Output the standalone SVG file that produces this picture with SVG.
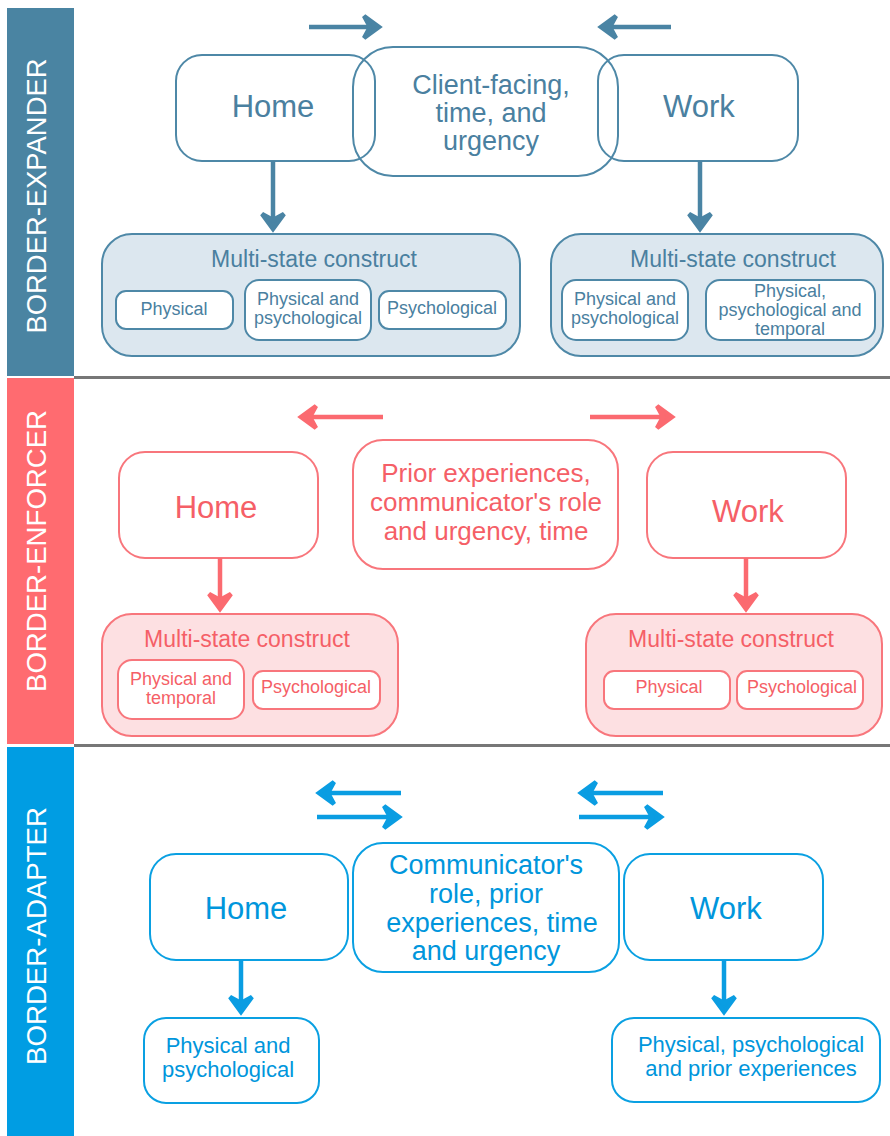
<svg xmlns="http://www.w3.org/2000/svg" width="890" height="1136" viewBox="0 0 890 1136">
<style>
text{font-family:"Liberation Sans",Arial,sans-serif;text-anchor:middle}
.side{fill:#fff;font-size:27px}
.b1{fill:#fff;stroke:#4e88a7;stroke-width:2}
.m1{fill:#dce7ef;stroke:#4e88a7;stroke-width:2}
.t1{fill:#4a80a0}
.b2{fill:#fff;stroke:#f8767c;stroke-width:2}
.m2{fill:#fde0e2;stroke:#f8767c;stroke-width:2}
.t2{fill:#f55f67}
.b3{fill:#fff;stroke:#0aa0e2;stroke-width:2}
.t3{fill:#0096dc}
.big{font-size:31px}
.mid{font-size:26px}
.ms{font-size:23px}
.sm{font-size:18px}
.a1{stroke:#4a84a4;stroke-width:4.5;fill:none}
.a2{stroke:#fb6a70;stroke-width:4.5;fill:none}
.a3{stroke:#0a9de2;stroke-width:4.5;fill:none}
.sep{stroke:#777;stroke-width:3}
</style>
<defs>
<marker id="h1" markerUnits="userSpaceOnUse" viewBox="-22 -15 28 30" markerWidth="28" markerHeight="30" refX="0" refY="0" orient="auto"><path d="M-15,-11 L0,0 L-15,11 L-9,0 Z" fill="#4a84a4" stroke="#4a84a4" stroke-width="4.5" stroke-linecap="round"/></marker>
<marker id="h2" markerUnits="userSpaceOnUse" viewBox="-22 -15 28 30" markerWidth="28" markerHeight="30" refX="0" refY="0" orient="auto"><path d="M-15,-11 L0,0 L-15,11 L-9,0 Z" fill="#fb6a70" stroke="#fb6a70" stroke-width="4.5" stroke-linecap="round"/></marker>
<marker id="h3" markerUnits="userSpaceOnUse" viewBox="-22 -15 28 30" markerWidth="28" markerHeight="30" refX="0" refY="0" orient="auto"><path d="M-15,-11 L0,0 L-15,11 L-9,0 Z" fill="#0a9de2" stroke="#0a9de2" stroke-width="4.5" stroke-linecap="round"/></marker>
</defs>
<rect width="890" height="1136" fill="#fff"/>

<g id="sidebars">
<rect x="7" y="8" width="67" height="368" fill="#4a84a2"/>
<rect x="7" y="378" width="67" height="366" fill="#ff6b70"/>
<rect x="7" y="747" width="67" height="389" fill="#009de3"/>
<text class="side" transform="translate(46,196) rotate(-90)" textLength="275" lengthAdjust="spacingAndGlyphs">BORDER-EXPANDER</text>
<text class="side" transform="translate(46,551) rotate(-90)" textLength="282" lengthAdjust="spacingAndGlyphs">BORDER-ENFORCER</text>
<text class="side" transform="translate(46,936) rotate(-90)" textLength="258" lengthAdjust="spacingAndGlyphs">BORDER-ADAPTER</text>
</g>
<g id="separators">
<line class="sep" x1="74" y1="377.5" x2="890" y2="377.5"/>
<line class="sep" x1="74" y1="745.5" x2="890" y2="745.5"/>
</g>

<!-- Section 1 -->
<g id="exp-home"><rect class="b1" x="176" y="55" width="199" height="106" rx="26"/><text class="t1 big" x="273" y="117">Home</text></g>
<g id="exp-client"><rect class="b1" x="353" y="47" width="265" height="129" rx="40" fill-opacity="0"/><text class="t1" font-size="27" x="491" y="94">Client-facing,</text><text class="t1" font-size="27" x="491" y="122">time, and</text><text class="t1" font-size="27" x="491" y="150">urgency</text></g>
<g id="exp-work"><rect class="b1" x="598" y="55" width="200" height="106" rx="26" fill-opacity="0"/><text class="t1 big" x="699" y="117">Work</text></g>
<g id="exp-home-ms">
<rect class="m1" x="102" y="234" width="418" height="122" rx="30"/>
<text class="t1 ms" x="314" y="267">Multi-state construct</text>
<rect class="b1" x="116" y="291" width="117" height="38" rx="10"/><text class="t1 sm" x="174" y="315">Physical</text>
<rect class="b1" x="245" y="280" width="126" height="60" rx="14"/><text class="t1 sm" x="308" y="305">Physical and</text><text class="t1 sm" x="308" y="324">psychological</text>
<rect class="b1" x="379" y="291" width="127" height="38" rx="10"/><text class="t1 sm" x="442" y="314">Psychological</text>
</g>
<g id="exp-work-ms">
<rect class="m1" x="551" y="234" width="332" height="122" rx="30"/>
<text class="t1 ms" x="733" y="267">Multi-state construct</text>
<rect class="b1" x="562" y="280" width="126" height="60" rx="14"/><text class="t1 sm" x="625" y="305">Physical and</text><text class="t1 sm" x="625" y="324">psychological</text>
<rect class="b1" x="706" y="280" width="169" height="60" rx="14"/><text class="t1 sm" x="790" y="297">Physical,</text><text class="t1 sm" x="790" y="316">psychological and</text><text class="t1 sm" x="790" y="335">temporal</text>
</g>

<!-- Section 2 -->
<g id="enf-home"><rect class="b2" x="119" y="452" width="199" height="106" rx="26"/><text class="t2 big" x="216" y="518">Home</text></g>
<g id="enf-center"><rect class="b2" x="353" y="440" width="265" height="129" rx="30"/><text class="t2 mid" x="486" y="482">Prior experiences,</text><text class="t2 mid" x="486" y="511">communicator's role</text><text class="t2 mid" x="486" y="540">and urgency, time</text></g>
<g id="enf-work"><rect class="b2" x="647" y="452" width="199" height="106" rx="26"/><text class="t2 big" x="748" y="522">Work</text></g>
<g id="enf-home-ms">
<rect class="m2" x="102" y="614" width="296" height="122" rx="30"/>
<text class="t2 ms" x="247" y="647">Multi-state construct</text>
<rect class="b2" x="118" y="660" width="126" height="59" rx="14"/><text class="t2 sm" x="181" y="685">Physical and</text><text class="t2 sm" x="181" y="704">temporal</text>
<rect class="b2" x="253" y="671" width="127" height="38" rx="10"/><text class="t2 sm" x="316" y="693">Psychological</text>
</g>
<g id="enf-work-ms">
<rect class="m2" x="586" y="614" width="296" height="122" rx="30"/>
<text class="t2 ms" x="731" y="647">Multi-state construct</text>
<rect class="b2" x="604" y="671" width="126" height="38" rx="10"/><text class="t2 sm" x="669" y="693">Physical</text>
<rect class="b2" x="737" y="671" width="126" height="38" rx="10"/><text class="t2 sm" x="802" y="693">Psychological</text>
</g>

<!-- Section 3 -->
<g id="ada-home"><rect class="b3" x="150" y="854" width="198" height="106" rx="26"/><text class="t3 big" x="246" y="919">Home</text></g>
<g id="ada-center"><rect class="b3" x="353" y="843" width="266" height="129" rx="30"/><text class="t3" font-size="27" x="486" y="874">Communicator's</text><text class="t3" font-size="27" x="486" y="903">role, prior</text><text class="t3" font-size="27" x="492" y="932">experiences, time</text><text class="t3" font-size="27" x="486" y="960">and urgency</text></g>
<g id="ada-work"><rect class="b3" x="624" y="854" width="199" height="106" rx="26"/><text class="t3 big" x="726" y="919">Work</text></g>
<g id="ada-home-out"><rect class="b3" x="144" y="1018" width="175" height="85" rx="22"/><text class="t3" font-size="22" x="228" y="1053">Physical and</text><text class="t3" font-size="22" x="228" y="1077">psychological</text></g>
<g id="ada-work-out"><rect class="b3" x="612" y="1018" width="268" height="84" rx="22"/><text class="t3" font-size="22" x="751" y="1052">Physical, psychological</text><text class="t3" font-size="22" x="751" y="1076">and prior experiences</text></g>

<g id="connectors">
<line class="a1" x1="309" y1="27" x2="379" y2="27" marker-end="url(#h1)"/>
<line class="a1" x1="671" y1="27" x2="601" y2="27" marker-end="url(#h1)"/>
<line class="a1" x1="273" y1="161" x2="273" y2="229" marker-end="url(#h1)"/>
<line class="a1" x1="700" y1="161" x2="700" y2="229" marker-end="url(#h1)"/>
<line class="a2" x1="383" y1="417" x2="301" y2="417" marker-end="url(#h2)"/>
<line class="a2" x1="590" y1="417" x2="672" y2="417" marker-end="url(#h2)"/>
<line class="a2" x1="220" y1="558" x2="220" y2="609" marker-end="url(#h2)"/>
<line class="a2" x1="746" y1="558" x2="746" y2="609" marker-end="url(#h2)"/>
<line class="a3" x1="401" y1="793" x2="319" y2="793" marker-end="url(#h3)"/>
<line class="a3" x1="317" y1="817" x2="399" y2="817" marker-end="url(#h3)"/>
<line class="a3" x1="663" y1="793" x2="581" y2="793" marker-end="url(#h3)"/>
<line class="a3" x1="579" y1="817" x2="661" y2="817" marker-end="url(#h3)"/>
<line class="a3" x1="241" y1="960" x2="241" y2="1012" marker-end="url(#h3)"/>
<line class="a3" x1="724" y1="960" x2="724" y2="1012" marker-end="url(#h3)"/>
</g>
</svg>
